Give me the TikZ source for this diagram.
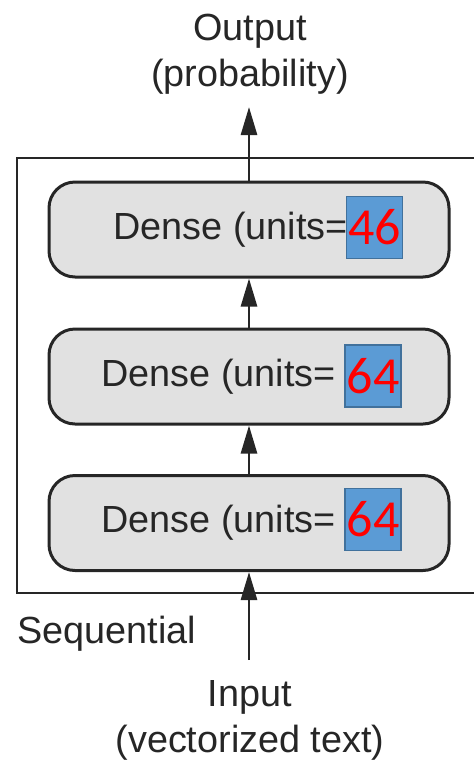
\documentclass[tikz,border=0pt]{standalone}
\usepackage{fontspec}
\setmainfont{Liberation Sans}
\newfontfamily\numfont{Carlito}
\usepackage{xcolor}
\usetikzlibrary{arrows.meta,positioning}
\definecolor{boxgray}{HTML}{E1E1E1}
\definecolor{linegray}{HTML}{262626}
\definecolor{unitblue}{HTML}{5B9BD5}
\definecolor{unitedge}{HTML}{41719C}

\begin{document}
\begin{tikzpicture}[x=0.5pt, y=-0.5pt, >={Triangle[length=14pt,width=8pt]},
  layer/.style={draw=linegray, line width=1.5pt, fill=boxgray, rounded corners=13pt,
    minimum width=200pt, minimum height=47.5pt},
  lbl/.style={text=linegray, font=\fontsize{18.9}{23}\selectfont, inner sep=0pt},
  units/.style={fill=unitblue, draw=unitedge, line width=0.6pt, text=red,
    font=\numfont\fontsize{26}{28}\selectfont, minimum width=28pt, minimum height=31pt, inner sep=0pt},
  flow/.style={->, draw=linegray, line width=1.35pt}]
  \useasboundingbox (0,0) rectangle (474,762);
  % Sequential container, runs off to the right
  \coordinate (seqTL) at (17,158);
  \coordinate (seqBR) at (520,593);
  \draw[linegray, line width=1pt] (seqTL) rectangle (seqBR);
  \node[lbl, anchor=base west] (seq) at (17,643) {Sequential};
  % the three dense layers
  \node[layer] (d1) at (249,229.5) {};
  \node[layer] (d2) at (249,376.5) {};
  \node[layer] (d3) at (249,523) {};
  \node[lbl, anchor=west] (t1) at (113,230) {Dense (units=};
  \node[lbl, anchor=west] (t2) at (101,377) {Dense (units=};
  \node[lbl, anchor=west] (t3) at (101,523) {Dense (units=};
  \node[units] (n1) at (374.5,227.5) {46};
  \node[units] (n2) at (373,376) {64};
  \node[units] (n3) at (373,519.5) {64};
  % input and output
  \node[lbl, align=center] (outlbl) at (250,54) {Output\\(probability)};
  \node[lbl, align=center] (inlbl) at (250,720) {Input\\(vectorized text)};
  \coordinate (outtip) at (249,107);
  \coordinate (instart) at (249,660);
  \draw[flow] (instart) -- (d3);
  \draw[flow] (d3) -- (d2);
  \draw[flow] (d2) -- (d1);
  \draw[flow] (d1) -- (outtip);
\end{tikzpicture}
\end{document}
